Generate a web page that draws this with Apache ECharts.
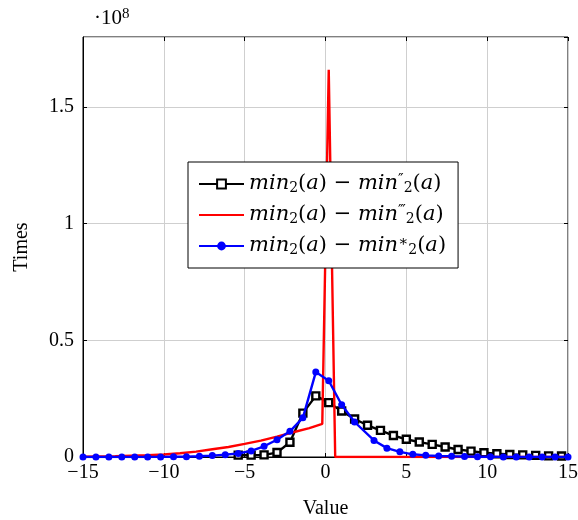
<!DOCTYPE html>
<html><head><meta charset="utf-8">
<script src="https://cdn.jsdelivr.net/npm/echarts@6/dist/echarts.min.js"></script>
<style>html,body{margin:0;padding:0;background:#fff}#c{width:578px;height:520px}</style>
</head><body><div id="c"></div>
<script>
var xTicks = [-15, -10, -5, 0, 5, 10, 15];
var yTickLabels = ['0', '0.5', '1', '1.5'];

var blackX = [-5.4,-4.6,-3.8,-3.0,-2.2,-1.4,-0.6,0.2,1.0,1.8,2.6,3.4,4.2,5.0,5.8,6.6,7.4,8.2,9.0,9.8,10.6,11.4,12.2,13.0,13.8,14.6];
var blackY = [0.8,0.8,0.9,1.9,6.3,18.8,26.2,23.3,19.7,16.3,13.6,11.4,9.2,7.6,6.4,5.4,4.3,3.2,2.5,1.8,1.4,1.1,0.9,0.7,0.5,0.4];

var redX = [-15,-13,-11,-10,-9,-8,-7,-6,-5,-4,-3,-2,-1,-0.2,0.2,0.6,15];
var redY = [0.1,0.3,0.8,1.1,1.6,2.3,3.3,4.3,5.6,7.0,8.7,10.6,12.4,14.2,166,0,0];

var blueX = [-15,-14.2,-13.4,-12.6,-11.8,-11.0,-10.2,-9.4,-8.6,-7.8,-7.0,-6.2,-5.4,-4.6,-3.8,-3.0,-2.2,-1.4,-0.6,0.2,1.0,1.8,3.0,3.8,4.6,5.4,6.2,7.0,7.8,8.6,9.4,10.2,11.0,11.8,12.6,13.4,14.2,15.0];
var blueY = [0,0,0,0,0,0,0.05,0.1,0.15,0.3,0.6,1.0,1.5,2.6,4.6,7.4,11.0,16.8,36.4,32.7,22.4,15.0,7.1,3.8,2.2,1.15,0.7,0.45,0.3,0.2,0.1,0.1,0.05,0.05,0,0,0,0];

var UNIT = 1e6;
function pairs(xs, ys){ return xs.map(function(x,i){ return [x, ys[i]*UNIT]; }); }

var FONT = 'Liberation Serif';
var MFONT = 'DejaVu Serif';
var names = ['s1','s2','s3'];
var legendText = {
  s1: '{i|min}{s|2}{u|(}{i|a}{u|) − }{i|min}{p|″}{s|2}{u|(}{i|a}{u|)}',
  s2: '{i|min}{s|2}{u|(}{i|a}{u|) − }{i|min}{p|‴}{s|2}{u|(}{i|a}{u|)}',
  s3: '{i|min}{s|2}{u|(}{i|a}{u|) − }{i|min}{p|∗}{s|2}{u|(}{i|a}{u|)}'
};

var chart = echarts.init(document.getElementById('c'), null, {renderer:'canvas'});
var gridLine = {show:true, lineStyle:{color:'#cfcfcf', width:1}};
var tickStyle = {show:true, inside:true, length:4, lineStyle:{color:'#000', width:1}};
var yFmt = function(v){ var k = Math.round(v/5e7); if (Math.abs(v - k*5e7) > 1 || k >= yTickLabels.length) return ''; return yTickLabels[k]; };
var xFmt = function(v){ return xTicks.indexOf(v) >= 0 ? (v < 0 ? '−' + (-v) : String(v)) : ''; };

chart.setOption({
  animation:false,
  grid:{left:83, right:10, top:37, bottom:63, show:true, borderColor:'#000', borderWidth:1, backgroundColor:'transparent', containLabel:false, outerBoundsMode:'none'},
  xAxis:[{
    type:'value', min:-15, max:15, interval:5,
    axisLine:{show:true, onZero:false, lineStyle:{color:'#000', width:1}},
    axisTick:tickStyle, splitLine:gridLine,
    axisLabel:{formatter:xFmt, fontFamily:FONT, fontSize:20, color:'#000', margin:6},
    name:'Value', nameLocation:'middle', nameGap:42,
    nameTextStyle:{fontFamily:FONT, fontSize:20, color:'#000'}
  },{
    type:'value', position:'top', min:-15, max:15, interval:5,
    axisLine:{show:false, onZero:false}, axisTick:tickStyle, splitLine:{show:false}, axisLabel:{show:false}
  }],
  yAxis:[{
    type:'value', min:0, max:1.8e8, interval:5e7,
    axisLine:{show:true, onZero:false, lineStyle:{color:'#000', width:1}},
    axisTick:tickStyle, splitLine:gridLine,
    axisLabel:{formatter:yFmt, fontFamily:FONT, fontSize:20, color:'#000', margin:9, showMaxLabel:false},
    name:'Times', nameLocation:'middle', nameGap:51, nameRotate:90,
    nameTextStyle:{fontFamily:FONT, fontSize:20, color:'#000'}
  },{
    type:'value', position:'right', min:0, max:1.8e8, interval:5e7,
    axisLine:{show:false, onZero:false}, axisTick:tickStyle, splitLine:{show:false}, axisLabel:{show:false}
  }],
  legend:{
    orient:'vertical', left:188, top:162,
    backgroundColor:'#fff', borderColor:'#000', borderWidth:1,
    padding:[11,12,10,10], itemGap:8, itemWidth:45, itemHeight:11,
    data:[{name:'s1'},{name:'s2', itemStyle:{color:'rgba(0,0,0,0)', borderWidth:0, opacity:0}},{name:'s3'}],
    formatter:function(n){ return legendText[n]; },
    textStyle:{
      color:'#000',
      rich:{
        i:{fontFamily:MFONT, fontStyle:'italic', fontSize:21, color:'#000', lineHeight:22},
        u:{fontFamily:MFONT, fontSize:21, color:'#000', lineHeight:22},
        s:{fontFamily:MFONT, fontSize:14, color:'#000', verticalAlign:'bottom', lineHeight:22, padding:[6,0,0,0]},
        p:{fontFamily:MFONT, fontSize:15, color:'#000', verticalAlign:'top', lineHeight:22, padding:[0,0,8,0]}
      }
    }
  },
  graphic:[{
    type:'text', left:94, top:7,
    style:{text:'·10{e|8}', fill:'#000', font:'21px "Liberation Serif"',
      rich:{e:{fontFamily:FONT, fontSize:15, verticalAlign:'top', padding:[0,0,8,0]}}}
  }],
  series:[
    {name:'s1', type:'line', data:pairs(blackX, blackY), symbol:'rect', symbolSize:7, showAllSymbol:true,
     lineStyle:{color:'#000', width:2.4}, itemStyle:{color:'#fff', borderColor:'#000', borderWidth:2.4}, z:2},
    {name:'s2', type:'line', data:pairs(redX, redY), symbol:'none', showSymbol:false,
     lineStyle:{color:'#ff0000', width:2.4}, itemStyle:{color:'#ff0000'}, z:3},
    {name:'s3', type:'line', data:pairs(blueX, blueY), symbol:'circle', symbolSize:7, showAllSymbol:true,
     lineStyle:{color:'#0000ff', width:2.4}, itemStyle:{color:'#0000ff'}, z:4}
  ]
});
</script></body></html>
